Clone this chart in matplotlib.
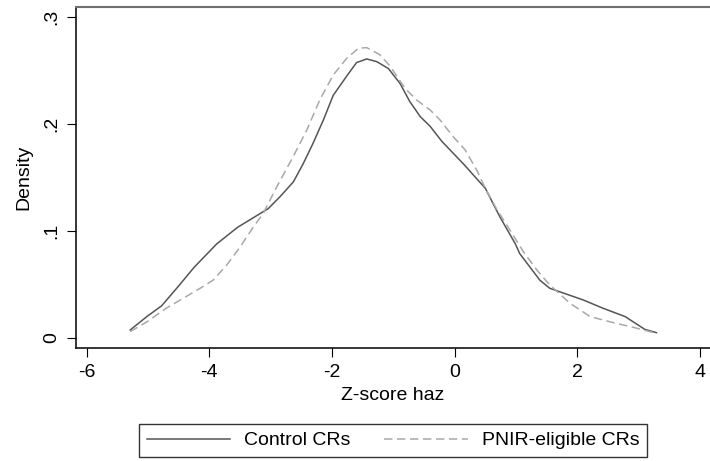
import numpy as np
import matplotlib
matplotlib.use("Agg")
import matplotlib.pyplot as plt

#---------------- data ----------------#
control_x = [-5.29, -5.02, -4.78, -4.51, -4.25, -3.88, -3.54, -3.04, -2.85, -2.63,
             -2.47, -2.31, -2.14, -1.98, -1.76, -1.60, -1.435, -1.27, -1.08, -0.89,
             -0.73, -0.56, -0.40, -0.21, 0.14, 0.50, 0.74, 0.99, 1.06, 1.39,
             1.55, 2.10, 2.42, 2.78, 3.10, 3.29]
control_y = [0.0075, 0.020, 0.030, 0.048, 0.066, 0.088, 0.1035, 0.121, 0.132, 0.146,
             0.163, 0.182, 0.204, 0.227, 0.245, 0.2576, 0.261, 0.2585, 0.252, 0.238,
             0.221, 0.207, 0.198, 0.184, 0.163, 0.140, 0.113, 0.088, 0.079, 0.054,
             0.0465, 0.0355, 0.0278, 0.020, 0.0081, 0.005]

pnir_x = [-5.29, -5.02, -4.70, -4.40, -4.15, -3.94, -3.72, -3.50, -3.28, -3.12,
          -2.90, -2.63, -2.41, -2.20, -1.98, -1.76, -1.57, -1.435, -1.22, -1.05,
          -0.81, -0.62, -0.40, -0.24, -0.02, 0.17, 0.36, 0.50, 0.68, 0.90,
          1.12, 1.34, 1.55, 1.88, 2.21, 2.59, 2.91, 3.29]
pnir_y = [0.006, 0.015, 0.028, 0.038, 0.0465, 0.054, 0.068, 0.085, 0.104, 0.1166,
          0.1415, 0.170, 0.1946, 0.2226, 0.246, 0.2616, 0.271, 0.2716, 0.265, 0.254,
          0.2336, 0.2226, 0.2133, 0.204, 0.188, 0.176, 0.157, 0.140, 0.121, 0.101,
          0.0807, 0.0636, 0.0496, 0.0325, 0.020, 0.0143, 0.010, 0.0044]

xticks = [-6, -4, -2, 0, 2, 4]
xtick_labels = ["-6", "-4", "-2", "0", "2", "4"]
yticks = [0, 0.1, 0.2, 0.3]
ytick_labels = ["0", ".1", ".2", ".3"]

#---------------- plotting ----------------#
plt.rcParams["font.family"] = ["Liberation Sans", "DejaVu Sans"]
plt.rcParams["font.size"] = 14
plt.rcParams["axes.unicode_minus"] = False

fig = plt.figure(figsize=(7.1, 4.61), dpi=100)
ax = fig.add_axes([76/710, 1 - 348/461, 1 - 76/710, (348 - 7)/461])

ax.plot(control_x, control_y, color="#555555", lw=1.1, label="Control CRs")
ax.plot(pnir_x, pnir_y, color="#a8a8a8", lw=1.1, ls=(0, (5.5, 3)), label="PNIR-eligible CRs")

ax.set_xlim(-6.174, 4.163)
ax.set_ylim(-0.00935, 0.3096)
ax.set_xticks(xticks)
ax.set_xticklabels(xtick_labels)
ax.set_yticks(yticks)
ax.set_yticklabels(ytick_labels, rotation=90, va="center")
ax.tick_params(direction="out", length=6.5, width=0.8, color="black", pad=5)

for side in ["left", "bottom"]:
    ax.spines[side].set_color("black")
    ax.spines[side].set_linewidth(1.1)
ax.spines["top"].set_color("#707070")
ax.spines["top"].set_linewidth(1.5)
ax.spines["right"].set_visible(False)

ax.set_xlabel("Z-score haz", labelpad=4)
ax.set_ylabel("Density", labelpad=8)

leg = fig.legend(loc="center", bbox_to_anchor=(393/710, 1 - 440.5/461), ncol=2,
                 handlelength=4.3, handletextpad=0.7, columnspacing=1.75,
                 borderpad=0.4, frameon=True, fancybox=False, fontsize=14)
leg.get_frame().set_edgecolor("black")
leg.get_frame().set_linewidth(1.0)

plt.savefig("out.png", dpi=100)
